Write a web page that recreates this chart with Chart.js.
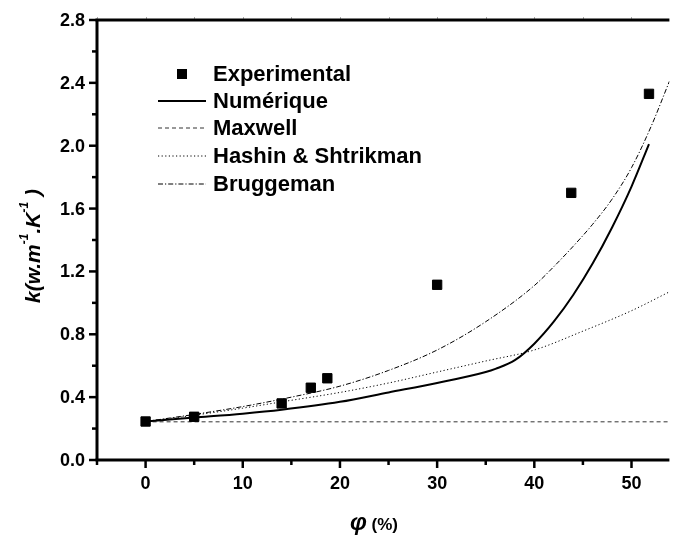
<!DOCTYPE html>
<html>
<head>
<meta charset="utf-8">
<style>
  html, body { margin: 0; padding: 0; background: #fff; }
  #wrap { width: 677px; height: 537px; position: relative; }
</style>
<script src="https://cdn.jsdelivr.net/npm/chart.js@4/dist/chart.umd.min.js"></script>
</head>
<body>
<div id="wrap"><canvas id="c" width="677" height="537"></canvas></div>
<script>
// Thermal conductivity k (W/m/K) against volume fraction phi (%)
const phiExp = [0, 5, 14, 17, 18.7, 30, 43.8, 51.8];
const kExp   = [0.245, 0.275, 0.36, 0.46, 0.52, 1.115, 1.70, 2.33];

const phiNum = [0, 5, 10, 14, 20, 25, 30, 35, 36, 38, 40, 42, 44, 46, 48, 50, 51.8];
const kNum   = [0.245, 0.27, 0.295, 0.32, 0.37, 0.43, 0.49, 0.56, 0.58, 0.635, 0.74, 0.88, 1.05, 1.25, 1.48, 1.74, 2.01];

const phiMaxwell = [0, 53.9];
const kMaxwell   = [0.243, 0.243];

const phiHS = [0, 5, 10, 14, 20, 25, 30, 35, 40, 45, 50, 53.9];
const kHS   = [0.245, 0.285, 0.33, 0.37, 0.43, 0.49, 0.56, 0.63, 0.70, 0.82, 0.95, 1.07];

const phiBrug = [0, 5, 10, 15, 20, 25, 30, 35, 40, 42, 44, 46, 48, 50, 52, 53.9];
const kBrug   = [0.245, 0.29, 0.34, 0.40, 0.47, 0.57, 0.70, 0.88, 1.11, 1.23, 1.36, 1.50, 1.66, 1.86, 2.12, 2.41];

const xTickValues = [-5, 0, 5, 10, 15, 20, 25, 30, 35, 40, 45, 50];
const xTickLabels = ['', '0', '', '10', '', '20', '', '30', '', '40', '', '50'];
const yTickValues = [0, 0.2, 0.4, 0.6, 0.8, 1.0, 1.2, 1.4, 1.6, 1.8, 2.0, 2.2, 2.4, 2.6, 2.8];
const yTickLabels = ['0.0', '', '0.4', '', '0.8', '', '1.2', '', '1.6', '', '2.0', '', '2.4', '', '2.8'];

const seriesNames = ['Experimental', 'Numérique', 'Maxwell', 'Hashin & Shtrikman', 'Bruggeman'];

const pts = (xs, ys) => xs.map((x, i) => ({ x: x, y: ys[i] }));
const FONT = '"Liberation Sans", Arial, sans-serif';

const lineDefaults = { showLine: true, pointRadius: 0, pointHoverRadius: 0, fill: false,
  cubicInterpolationMode: 'monotone', borderColor: '#000' };

const datasets = [
  { label: seriesNames[0], data: pts(phiExp, kExp), showLine: false, pointStyle: 'rect',
    pointRadius: 6.6, pointBackgroundColor: '#000', pointBorderColor: '#000', pointBorderWidth: 1,
    borderColor: '#000', backgroundColor: '#000' },
  Object.assign({}, lineDefaults, { label: seriesNames[1], data: pts(phiNum, kNum), borderWidth: 2 }),
  Object.assign({}, lineDefaults, { label: seriesNames[2], data: pts(phiMaxwell, kMaxwell), borderWidth: 1,
    borderColor: '#333', borderDash: [4, 3] }),
  Object.assign({}, lineDefaults, { label: seriesNames[3], data: pts(phiHS, kHS), borderWidth: 1,
    borderDash: [1.2, 2.4] }),
  Object.assign({}, lineDefaults, { label: seriesNames[4], data: pts(phiBrug, kBrug), borderWidth: 1,
    borderDash: [5, 2, 1.2, 2] })
];

// Axis frame, ticks and tick labels
const axesPlugin = {
  id: 'originAxes',
  afterDatasetsDraw(chart) {
    const ctx = chart.ctx;
    const a = chart.chartArea;
    const xs = chart.scales.x, ys = chart.scales.y;
    ctx.save();
    ctx.lineCap = 'butt';
    // mirror ticks on top axis
    ctx.lineWidth = 1;
    ctx.strokeStyle = '#aaa';
    xTickValues.forEach(v => {
      const px = Math.round(xs.getPixelForValue(v)) + 0.5;
      ctx.beginPath(); ctx.moveTo(px, a.top - 3); ctx.lineTo(px, a.top - 1); ctx.stroke();
    });
    ctx.strokeStyle = '#000';
    ctx.lineWidth = 3;
    ctx.beginPath(); ctx.moveTo(a.left - 1.5, a.top); ctx.lineTo(a.right, a.top); ctx.stroke();
    ctx.beginPath(); ctx.moveTo(a.left - 1.5, a.bottom); ctx.lineTo(a.right, a.bottom); ctx.stroke();
    ctx.beginPath(); ctx.moveTo(a.left, a.top); ctx.lineTo(a.left, a.bottom); ctx.stroke();

    ctx.lineWidth = 2.5;
    xTickValues.forEach((v, i) => {
      const px = xs.getPixelForValue(v);
      const len = xTickLabels[i] ? 8 : 5;
      ctx.beginPath(); ctx.moveTo(px, a.bottom); ctx.lineTo(px, a.bottom + len); ctx.stroke();
    });
    yTickValues.forEach((v, i) => {
      const py = ys.getPixelForValue(v);
      const len = yTickLabels[i] ? 8 : 5;
      ctx.beginPath(); ctx.moveTo(a.left, py); ctx.lineTo(a.left - len, py); ctx.stroke();
    });

    ctx.fillStyle = '#000';
    ctx.font = 'bold 18px ' + FONT;
    ctx.textAlign = 'center';
    ctx.textBaseline = 'middle';
    xTickValues.forEach((v, i) => {
      if (!xTickLabels[i]) return;
      ctx.fillText(xTickLabels[i], xs.getPixelForValue(v), a.bottom + 24);
    });
    ctx.textAlign = 'right';
    yTickValues.forEach((v, i) => {
      if (!yTickLabels[i]) return;
      ctx.fillText(yTickLabels[i], a.left - 12, ys.getPixelForValue(v) + 1);
    });
    ctx.restore();
  },
  afterDraw(chart) {
    const ctx = chart.ctx;
    const a = chart.chartArea;
    ctx.save();
    ctx.fillStyle = '#000';
    ctx.strokeStyle = '#000';

    // y axis title: k(w.m^-1.K^-1 )
    const big = 'italic bold 21px ' + FONT;
    const small = 'italic bold 12px ' + FONT;
    const parts = [
      { t: 'k(w.m', f: big, dy: 0 },
      { t: '-1', f: small, dy: -9 },
      { t: '.K', f: big, dy: 0 },
      { t: '-1', f: small, dy: -9 },
      { t: ' )', f: big, dy: 0 }
    ];
    let total = 0;
    parts.forEach(p => { ctx.font = p.f; p.w = ctx.measureText(p.t).width; total += p.w; });
    ctx.translate(28, 246);
    ctx.rotate(-Math.PI / 2);
    ctx.textAlign = 'left';
    ctx.textBaseline = 'middle';
    let cx = -total / 2;
    parts.forEach(p => { ctx.font = p.f; ctx.fillText(p.t, cx, 6 + p.dy); cx += p.w; });
    ctx.setTransform(1, 0, 0, 1, 0, 0);

    // x axis title: phi (%)
    ctx.textBaseline = 'alphabetic';
    ctx.textAlign = 'left';
    ctx.font = 'italic bold 24px ' + FONT;
    const wPhi = ctx.measureText('φ').width;
    ctx.font = 'bold 17px ' + FONT;
    const wPct = ctx.measureText(' (%)').width;
    const tx = 374 - (wPhi + wPct) / 2;
    ctx.font = 'italic bold 24px ' + FONT;
    ctx.fillText('φ', tx, 530);
    ctx.font = 'bold 17px ' + FONT;
    ctx.fillText(' (%)', tx + wPhi, 530);

    // legend
    const rowY = [74, 101, 128, 156, 184];
    const x0 = 158, x1 = 206, textX = 213;
    ctx.font = 'bold 22px ' + FONT;
    ctx.textBaseline = 'middle';
    chart.data.datasets.forEach((ds, i) => {
      const y = rowY[i];
      if (ds.showLine === false) {
        const s = 10;
        ctx.fillRect((x0 + x1) / 2 - s / 2, y - s / 2, s, s);
      } else {
        ctx.save();
        ctx.lineWidth = ds.borderWidth;
        ctx.strokeStyle = ds.borderColor;
        ctx.setLineDash(ds.borderDash || []);
        ctx.beginPath(); ctx.moveTo(x0, y); ctx.lineTo(x1, y); ctx.stroke();
        ctx.restore();
      }
      ctx.fillText(ds.label, textX, y + 1);
    });
    ctx.restore();
  }
};

new Chart(document.getElementById('c'), {
  type: 'scatter',
  data: { datasets: datasets },
  options: {
    responsive: false,
    animation: false,
    devicePixelRatio: 1,
    layout: { padding: { left: 97, right: 0, top: 20, bottom: 77 } },
    plugins: { legend: { display: false }, tooltip: { enabled: false } },
    scales: {
      x: { type: 'linear', min: -5, max: 53.9, display: false },
      y: { type: 'linear', min: 0, max: 2.8, display: false }
    }
  },
  plugins: [axesPlugin]
});
</script>
</body>
</html>
